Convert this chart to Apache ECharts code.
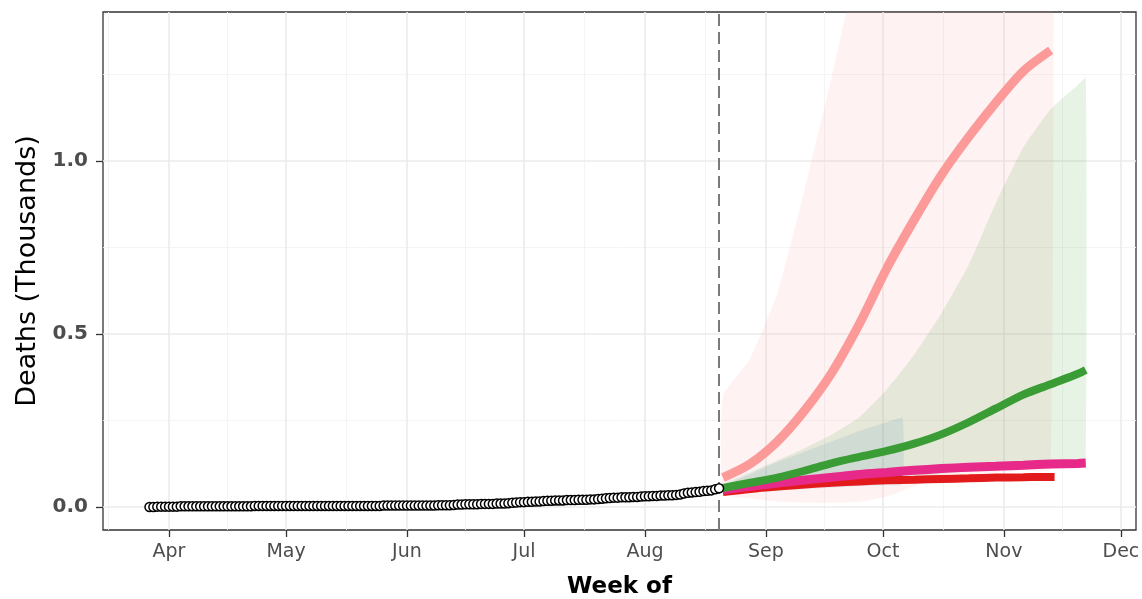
<!DOCTYPE html>
<html><head><meta charset="utf-8">
<script src="https://cdn.jsdelivr.net/npm/echarts@6/dist/echarts.min.js"></script>
<style>html,body{margin:0;padding:0;background:#fff}#c{width:1142px;height:599px}</style>
</head><body><div id="c"></div>
<script>
// ---- tick labels ----
const monthTicks = ['2020-04-01','2020-05-01','2020-06-01','2020-07-01','2020-08-01','2020-09-01','2020-10-01','2020-11-01','2020-12-01'];
const monthLabels = ['Apr','May','Jun','Jul','Aug','Sep','Oct','Nov','Dec'];
const yTicks = [0, 0.5, 1.0];
const yMinor = [0.25, 0.75, 1.25];

// ---- observed (daily, thousands) ----
const obsStart = '2020-03-27';
const observed = [
 0.000,0.000,0.001,0.001,0.001,
 0.001,0.001,0.001,0.002,0.002,0.002,0.002,0.002,0.002,0.002,
 0.002,0.002,0.002,0.002,0.002,0.002,0.002,0.002,0.002,0.002,
 0.002,0.002,0.003,0.003,0.003,0.003,0.003,0.003,0.003,0.003,
 0.003,0.003,0.003,0.003,0.003,0.003,0.003,0.003,0.003,0.003,
 0.003,0.003,0.003,0.003,0.003,0.003,0.003,0.003,0.003,0.003,
 0.003,0.003,0.003,0.003,0.003,0.004,0.004,0.004,0.004,0.004,0.004,
 0.004,0.004,0.004,0.004,0.004,0.004,0.004,0.004,0.005,0.005,
 0.005,0.005,0.006,0.007,0.007,0.008,0.008,0.008,0.008,0.009,
 0.009,0.009,0.009,0.010,0.010,0.010,0.011,0.012,0.013,0.014,
 0.014,0.015,0.015,0.016,0.016,0.017,0.018,0.018,0.019,0.019,
 0.019,0.020,0.020,0.020,0.021,0.021,0.021,0.022,0.022,0.023,
 0.024,0.025,0.026,0.027,0.027,0.028,0.028,0.028,0.029,0.029,0.030,
 0.031,0.031,0.032,0.032,0.033,0.033,0.034,0.034,0.035,0.036,
 0.039,0.041,0.042,0.043,0.044,0.046,0.047,0.048,0.051,0.054
];
const forecastDate = '2020-08-20';

// ---- forecasts ----
const salmonDates = ['2020-08-21','2020-08-28','2020-09-04','2020-09-11','2020-09-18','2020-09-25','2020-10-02','2020-10-09','2020-10-16','2020-10-23','2020-10-30','2020-11-06','2020-11-13'];
const salmonMid = [0.085,0.125,0.19,0.28,0.39,0.53,0.69,0.83,0.96,1.07,1.17,1.26,1.32];
const salmonLo  = [0.04,0.025,0.015,0.012,0.012,0.015,0.03,0.06,0.085,0.095,0.1,0.105,0.11];
const salmonHi  = [0.32,0.43,0.62,0.92,1.25,1.6,1.9,2.2,2.5,2.7,2.9,3.0,3.1];

const greenDates = ['2020-08-21','2020-08-28','2020-09-04','2020-09-11','2020-09-18','2020-09-25','2020-10-02','2020-10-09','2020-10-16','2020-10-23','2020-10-30','2020-11-06','2020-11-13','2020-11-20','2020-11-22'];
const greenMid = [0.055,0.07,0.085,0.105,0.127,0.145,0.162,0.183,0.21,0.245,0.285,0.325,0.355,0.385,0.396];
const greenLo  = [0.045,0.05,0.056,0.062,0.068,0.074,0.08,0.088,0.095,0.103,0.11,0.118,0.125,0.132,0.135];
const greenHi  = [0.065,0.1,0.135,0.17,0.21,0.26,0.34,0.44,0.56,0.7,0.88,1.04,1.15,1.22,1.24];

const blueDates = ['2020-08-21','2020-08-28','2020-09-04','2020-09-11','2020-09-18','2020-09-25','2020-10-02','2020-10-06'];
const blueMid = [0.05,0.057,0.064,0.07,0.076,0.081,0.086,0.088];
const blueLo  = [0.04,0.044,0.048,0.052,0.056,0.06,0.063,0.065];
const blueHi  = [0.06,0.095,0.13,0.16,0.19,0.22,0.245,0.257];

const magentaDates = ['2020-08-21','2020-08-28','2020-09-04','2020-09-11','2020-09-18','2020-09-25','2020-10-02','2020-10-09','2020-10-16','2020-10-23','2020-10-30','2020-11-06','2020-11-13','2020-11-20','2020-11-22'];
const magentaMid = [0.05,0.06,0.069,0.078,0.086,0.094,0.1,0.106,0.111,0.115,0.118,0.121,0.124,0.126,0.127];

const redDates = ['2020-08-21','2020-08-28','2020-09-04','2020-09-11','2020-09-18','2020-09-25','2020-10-02','2020-10-09','2020-10-16','2020-10-23','2020-10-30','2020-11-06','2020-11-13','2020-11-14'];
const redMid = [0.043,0.052,0.059,0.065,0.07,0.074,0.077,0.079,0.081,0.083,0.085,0.086,0.087,0.087];

// ---- build ----
const DAY = 86400000;
function ts(s){ return new Date(s + 'T00:00:00').getTime(); }
const tickTs = monthTicks.map(ts);
const obsData = observed.map((v,i)=>[ts(obsStart) + i*DAY, v]);
const pair = (d,v)=>d.map((x,i)=>[ts(x), v[i]]);

function band(dates, lo, hi, color){
  const data = dates.map((d,i)=>[ts(d), lo[i], hi[i]]);
  return {
    type:'custom', data:data, clip:true, silent:true, z:2,
    encode:{x:0, y:[1,2]},
    renderItem:function(params, api){
      if (params.dataIndex !== 0) return;
      const pts = [];
      for (let i=0;i<data.length;i++) pts.push(api.coord([data[i][0], data[i][2]]));
      for (let i=data.length-1;i>=0;i--) pts.push(api.coord([data[i][0], data[i][1]]));
      return {type:'polygon', shape:{points:pts, smooth:0.15}, style:{fill:color}};
    }
  };
}
function line(dates, vals, color, w){
  return {type:'line', data:pair(dates,vals), symbol:'none', smooth:0.3, lineStyle:{color:color, width:w, cap:'butt'}, silent:true, z:3};
}

// grid lines
const minorX = [];
for (let i=0;i<tickTs.length;i++){
  const prev = i===0 ? new Date(2020,2,1).getTime() : tickTs[i-1];
  minorX.push((prev + tickTs[i])/2);
}
const majorStyle = {color:'#EBEBEB', width:1.6, type:'solid'};
const minorStyle = {color:'#F3F3F3', width:0.9, type:'solid'};
const gridMarks = [];
yMinor.forEach(v=>gridMarks.push({yAxis:v, lineStyle:minorStyle}));
minorX.forEach(v=>gridMarks.push({xAxis:v, lineStyle:minorStyle}));
yTicks.forEach(v=>gridMarks.push({yAxis:v, lineStyle:majorStyle}));
tickTs.forEach(v=>gridMarks.push({xAxis:v, lineStyle:majorStyle}));

const xMin = new Date(2020,2,15,2).getTime();
const xMax = new Date(2020,11,4,21).getTime();

const series = [
  {type:'line', data:[[ts(obsStart),0]], symbol:'none', lineStyle:{opacity:0}, silent:true, z:1,
   markLine:{silent:true, z:1, symbol:['none','none'], label:{show:false}, animation:false, data:gridMarks}},
  band(salmonDates, salmonLo, salmonHi, 'rgba(251,154,153,0.13)'),
  band(greenDates, greenLo, greenHi, 'rgba(51,160,44,0.12)'),
  band(blueDates, blueLo, blueHi, 'rgba(31,120,180,0.10)'),
  line(blueDates, blueMid, '#1F78B4', 3),
  line(redDates, redMid, '#E31A1C', 8),
  line(magentaDates, magentaMid, '#E7298A', 9),
  line(greenDates, greenMid, '#3A9C34', 8),
  line(salmonDates, salmonMid, '#FB9A99', 9),
  {type:'line', data:[[ts(obsStart),0]], symbol:'none', lineStyle:{opacity:0}, silent:true, z:4,
   markLine:{silent:true, z:4, symbol:['none','none'], label:{show:false}, animation:false,
     data:[{xAxis:ts(forecastDate), lineStyle:{color:'#7A7A7A', width:2, type:[12,6]}}]}},
  {type:'scatter', data:obsData, symbol:'circle', symbolSize:9,
   itemStyle:{color:'#FFFFFF', borderColor:'#000000', borderWidth:1.5, opacity:1}, silent:true, z:5}
];

const chart = echarts.init(document.getElementById('c'), null, {renderer:'canvas'});
chart.setOption({
  animation:false,
  backgroundColor:'#FFFFFF',
  textStyle:{fontFamily:'"DejaVu Sans", sans-serif'},
  grid:{left:103, top:12, width:1033, height:518, outerBoundsMode:'none', containLabel:false,
    show:true, borderColor:'#333333', borderWidth:1.3, backgroundColor:'#FFFFFF'},
  xAxis:{type:'value', min:xMin, max:xMax, scale:true,
    axisLine:{show:false, onZero:false},
    axisTick:{show:true, customValues:tickTs, length:7, lineStyle:{color:'#333333', width:1.3}},
    axisLabel:{customValues:tickTs, color:'#4D4D4D', fontSize:19, margin:13,
      formatter:function(v){ const i = tickTs.findIndex(t=>Math.abs(t-v)<DAY/2); return i>=0 ? monthLabels[i] : ''; }},
    splitLine:{show:false}, minorSplitLine:{show:false},
    name:'Week of', nameLocation:'middle', nameGap:46,
    nameTextStyle:{fontWeight:'bold', fontSize:23, color:'#000000'}},
  yAxis:{type:'value', min:-0.0665, max:1.431,
    axisLine:{show:false, onZero:false},
    axisTick:{show:true, customValues:yTicks, length:7, lineStyle:{color:'#333333', width:1.3}},
    axisLabel:{customValues:yTicks, color:'#4D4D4D', fontSize:20, fontWeight:'bold', margin:15,
      formatter:function(v){ return v.toFixed(1); }},
    splitLine:{show:false},
    name:'Deaths (Thousands)', nameLocation:'middle', nameGap:58,
    nameTextStyle:{fontSize:27, color:'#000000'}},
  series:series
});
</script>
</body></html>
